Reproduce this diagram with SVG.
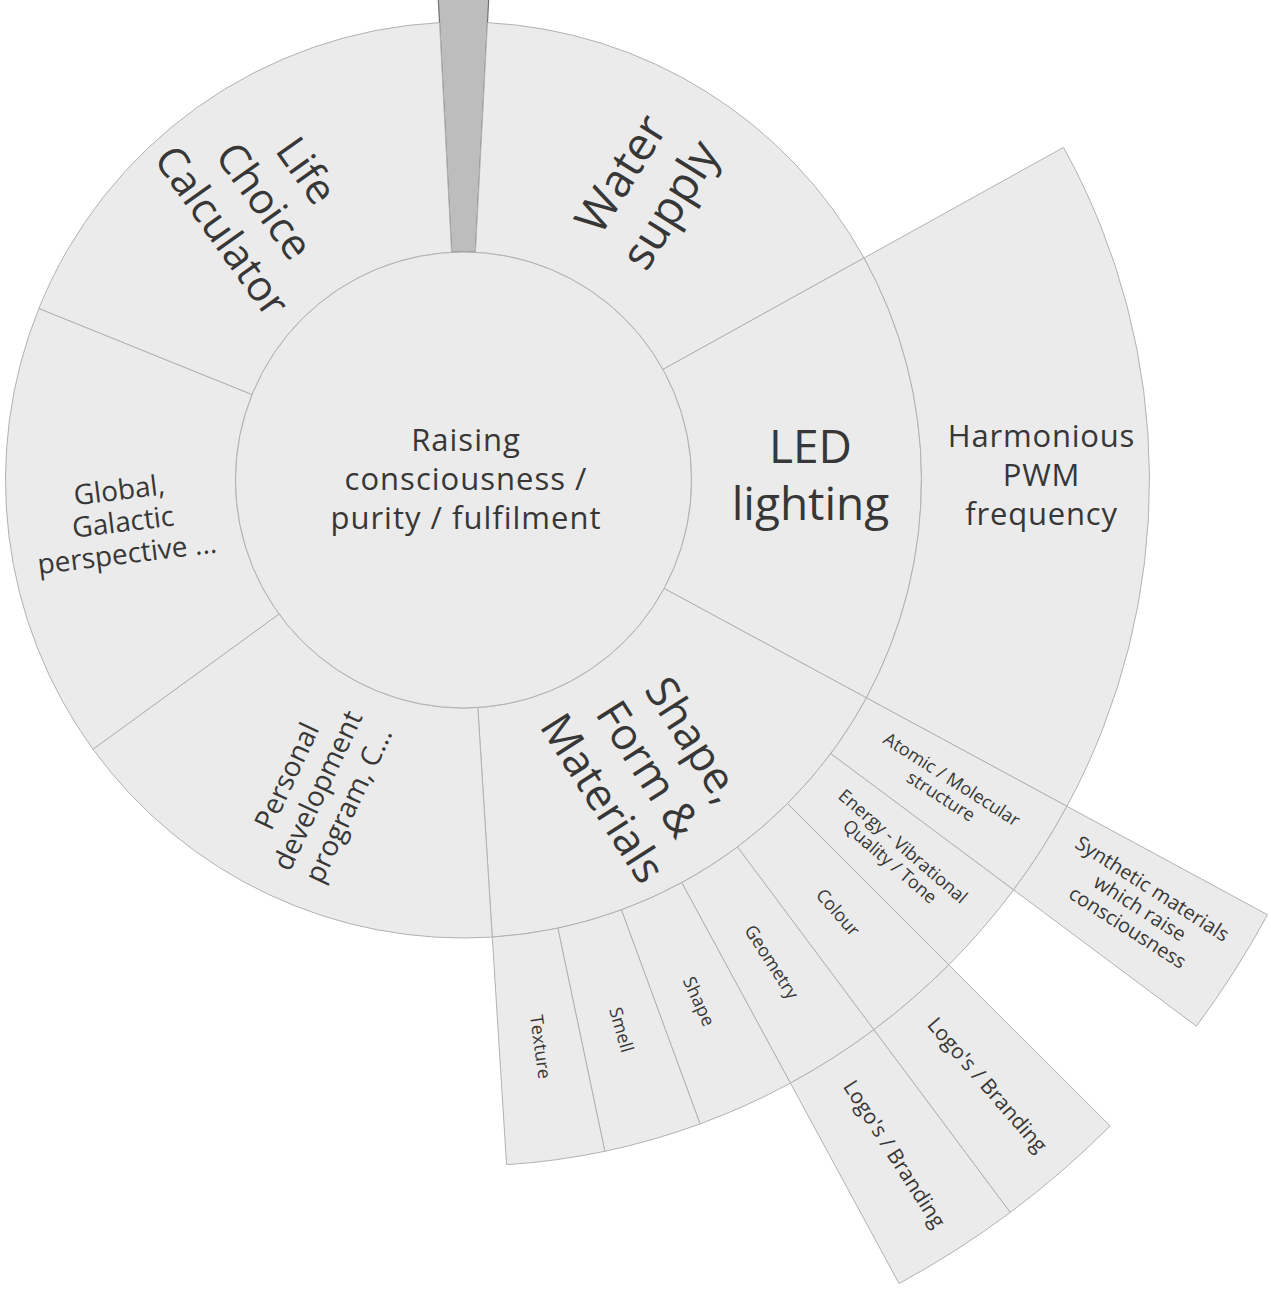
<svg xmlns="http://www.w3.org/2000/svg" width="1271" height="1291" viewBox="0 0 1271 1291">
<style>
.seg{fill:#ebebeb;stroke:#b2b2b2;stroke-width:1}
.sel{fill:#bdbdbd;stroke:#707070;stroke-width:1.2}
text{font-family:"Open Sans","Liberation Sans",sans-serif;fill:#373737;text-anchor:middle}
</style>
<rect width="1271" height="1291" fill="#ffffff"/>
<g id="connectors"></g>

<!-- ring 2 -->
<g id="node-selected">
<path class="sel" d="M 451.57 252.31 L 427.59 -205.06 A 686 686 0 0 1 499.41 -205.06 L 475.43 252.31 A 228 228 0 0 0 451.57 252.31 Z"/>
</g>
<g id="node-water">
<path class="seg" d="M 475.43 252.31 L 487.47 22.63 A 458 458 0 0 1 864.08 257.96 L 662.91 369.46 A 228 228 0 0 0 475.43 252.31 Z"/>
<text font-size="46" transform="translate(645.3 189.1) rotate(-58)"><tspan x="0" y="-12.9">Water</tspan><tspan x="0" dy="58">supply</tspan></text>
</g>
<g id="node-led">
<path class="seg" d="M 662.91 369.46 L 864.08 257.96 A 458 458 0 0 1 866.38 697.83 L 664.06 588.44 A 228 228 0 0 0 662.91 369.46 Z"/>
<text font-size="46"><tspan x="810.5" y="463">LED</tspan><tspan x="810.5" dy="57">lighting</tspan></text>
</g>
<g id="node-shape-form-materials">
<path class="seg" d="M 664.06 588.44 L 866.38 697.83 A 458 458 0 0 1 492.26 937.10 L 477.82 707.55 A 228 228 0 0 0 664.06 588.44 Z"/>
<text font-size="44" transform="translate(648.3 769) rotate(57.4)"><tspan x="0" y="-38.6">Shape,</tspan><tspan x="0" dy="54">Form &amp;</tspan><tspan x="0" dy="54">Materials</tspan></text>
</g>
<g id="node-personal">
<path class="seg" d="M 477.82 707.55 L 492.26 937.10 A 458 458 0 0 1 92.97 749.21 L 279.04 614.02 A 228 228 0 0 0 477.82 707.55 Z"/>
<text font-size="28" transform="translate(317.5 790.4) rotate(-64.8)"><tspan x="0" y="-24.2">Personal</tspan><tspan x="0" dy="34">development</tspan><tspan x="0" dy="34">program, C...</tspan></text>
</g>
<g id="node-global">
<path class="seg" d="M 279.04 614.02 L 92.97 749.21 A 458 458 0 0 1 38.85 308.43 L 252.10 394.59 A 228 228 0 0 0 279.04 614.02 Z"/>
<text font-size="28" transform="translate(123.1 521.8) rotate(-7)"><tspan x="0" y="-22.2">Global,</tspan><tspan x="0" dy="32">Galactic</tspan><tspan x="0" dy="32">perspective ...</tspan></text>
</g>
<g id="node-life">
<path class="seg" d="M 252.10 394.59 L 38.85 308.43 A 458 458 0 0 1 439.53 22.63 L 451.57 252.31 A 228 228 0 0 0 252.10 394.59 Z"/>
<text font-size="42" transform="translate(264.3 200.8) rotate(54.5)"><tspan x="0" y="-37.3">Life</tspan><tspan x="0" dy="52">Choice</tspan><tspan x="0" dy="52">Calculator</tspan></text>
</g>

<!-- centre -->
<g id="node-root">
<circle class="seg" cx="463.5" cy="480" r="228"/>
<text font-size="31" letter-spacing="1"><tspan x="466" y="451">Raising</tspan><tspan x="466" dy="39">consciousness /</tspan><tspan x="466" dy="39">purity / fulfilment</tspan></text>
</g>

<!-- ring 3 -->
<g id="node-harmonious">
<path class="seg" d="M 864.08 257.96 L 1063.5 147.42 A 686 686 0 0 1 1066.94 806.28 L 866.38 697.83 A 458 458 0 0 0 864.08 257.96 Z"/>
<text font-size="31" letter-spacing="0.8"><tspan x="1041.5" y="447">Harmonious</tspan><tspan x="1041.5" dy="39">PWM</tspan><tspan x="1041.5" dy="39">frequency</tspan></text>
</g>
<g id="node-atomic">
<path class="seg" d="M 866.38 697.83 L 1066.94 806.28 A 686 686 0 0 1 1013.60 889.89 L 830.77 753.65 A 458 458 0 0 0 866.38 697.83 Z"/>
<text font-size="18" transform="translate(946.5 787.8) rotate(32.55)"><tspan x="0" y="-3.7">Atomic / Molecular</tspan><tspan x="0" dy="20">structure</tspan></text>
</g>
<g id="node-energy">
<path class="seg" d="M 830.77 753.65 L 1013.60 889.89 A 686 686 0 0 1 948.83 964.82 L 787.53 803.69 A 458 458 0 0 0 830.77 753.65 Z"/>
<text font-size="18" transform="translate(896.5 853.8) rotate(40.83)"><tspan x="0" y="-3.7">Energy - Vibrational</tspan><tspan x="0" dy="20">Quality / Tone</tspan></text>
</g>
<g id="node-colour">
<path class="seg" d="M 787.53 803.69 L 948.83 964.82 A 686 686 0 0 1 873.86 1029.73 L 737.47 847.02 A 458 458 0 0 0 787.53 803.69 Z"/>
<text font-size="18" transform="translate(838 912.4) rotate(49.12)" y="6.3">Colour</text>
</g>
<g id="node-geometry">
<path class="seg" d="M 737.47 847.02 L 873.86 1029.73 A 686 686 0 0 1 790.41 1083.10 L 681.76 882.65 A 458 458 0 0 0 737.47 847.02 Z"/>
<text font-size="18" transform="translate(771.7 961.9) rotate(57.4)" y="6.3">Geometry</text>
</g>
<g id="node-shape">
<path class="seg" d="M 681.76 882.65 L 790.41 1083.10 A 686 686 0 0 1 700.04 1123.93 L 621.42 909.92 A 458 458 0 0 0 681.76 882.65 Z"/>
<text font-size="18" transform="translate(699 1001.3) rotate(65.69)" y="6.3">Shape</text>
</g>
<g id="node-smell">
<path class="seg" d="M 621.42 909.92 L 700.04 1123.93 A 686 686 0 0 1 604.84 1151.29 L 557.86 928.18 A 458 458 0 0 0 621.42 909.92 Z"/>
<text font-size="18" transform="translate(621.4 1029.8) rotate(73.97)" y="6.3">Smell</text>
</g>
<g id="node-texture">
<path class="seg" d="M 557.86 928.18 L 604.84 1151.29 A 686 686 0 0 1 506.57 1164.65 L 492.26 937.10 A 458 458 0 0 0 557.86 928.18 Z"/>
<text font-size="18" transform="translate(540.5 1046.8) rotate(82.26)" y="6.3">Texture</text>
</g>

<!-- ring 4 -->
<g id="node-synthetic">
<path class="seg" d="M 1066.94 806.28 L 1267.5 914.72 A 914 914 0 0 1 1196.44 1026.12 L 1013.60 889.89 A 686 686 0 0 0 1066.94 806.28 Z"/>
<text font-size="20" transform="translate(1140 908) rotate(32.55)"><tspan x="0" y="-16">Synthetic materials</tspan><tspan x="0" dy="23">which raise</tspan><tspan x="0" dy="23">consciousness</tspan></text>
</g>
<g id="node-logos-colour">
<path class="seg" d="M 948.83 964.82 L 1110.14 1125.96 A 914 914 0 0 1 1010.25 1212.44 L 873.86 1029.73 A 686 686 0 0 0 948.83 964.82 Z"/>
<text font-size="21" transform="translate(987.3 1084.7) rotate(49.12)" y="7.3">Logo's / Branding</text>
</g>
<g id="node-logos-geometry">
<path class="seg" d="M 873.86 1029.73 L 1010.25 1212.44 A 914 914 0 0 1 899.06 1283.54 L 790.41 1083.10 A 686 686 0 0 0 873.86 1029.73 Z"/>
<text font-size="21" transform="translate(894.5 1154) rotate(57.4)" y="7.3">Logo's / Branding</text>
</g>
</svg>
